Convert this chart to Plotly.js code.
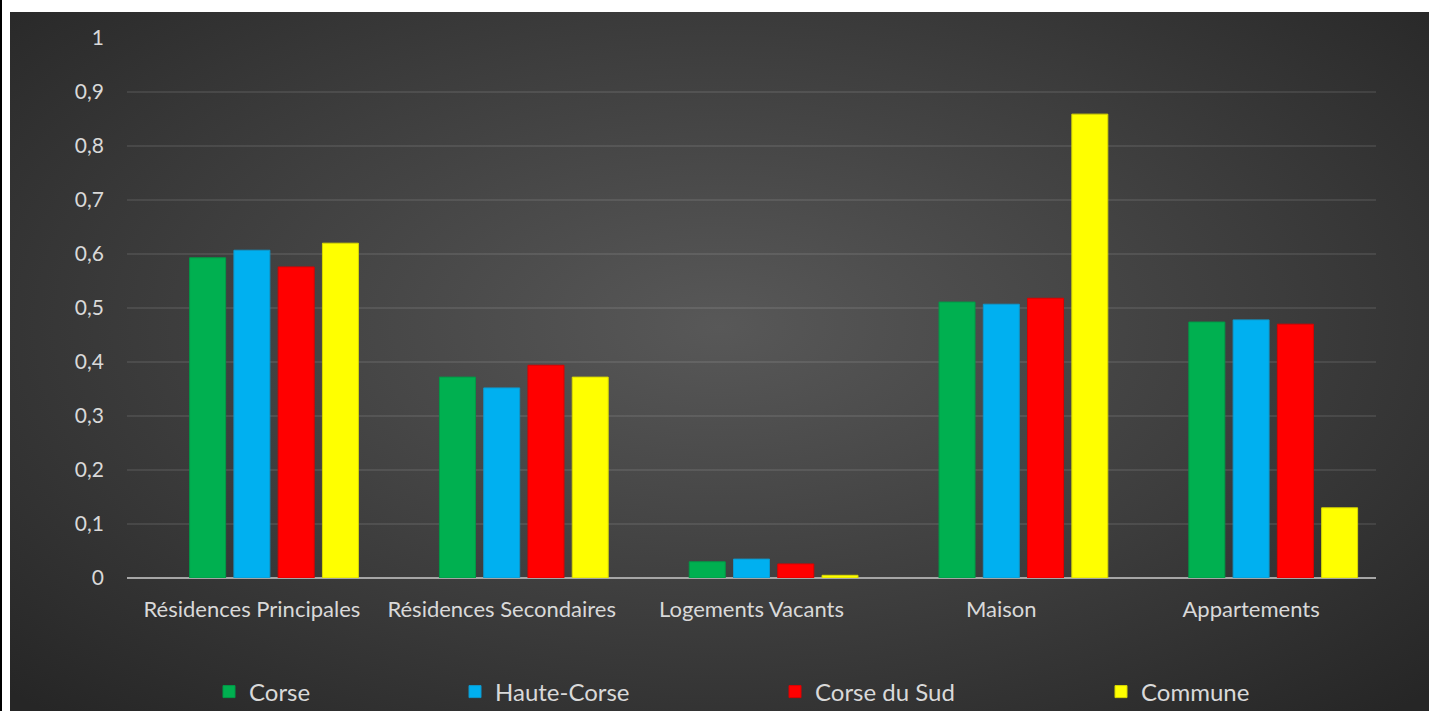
<!DOCTYPE html>
<html>
<head>
<meta charset="utf-8">
<script src="https://cdn.plot.ly/plotly-3.0.1.min.js"></script>
<style>
  html, body { margin: 0; padding: 0; background: #ffffff; width: 1429px; height: 711px; overflow: hidden; }
  #edge { position: absolute; left: 0; top: 0; width: 2px; height: 711px; background: #000000; }
  #bg { position: absolute; left: 10px; top: 12px; width: 1419px; height: 699px;
        background: radial-gradient(ellipse 70% 75% at 50% 45%, #585858 0%, #3d3d3d 55%, #262626 100%); }
  #chart { position: absolute; left: 0; top: 0; width: 1429px; height: 711px; }
</style>
</head>
<body>
<div id="edge"></div>
<div id="bg"></div>
<div id="chart"></div>
<script>
const categories = ['Résidences Principales', 'Résidences Secondaires', 'Logements Vacants', 'Maison', 'Appartements'];
const seriesNames = ['Corse', 'Haute-Corse', 'Corse du Sud', 'Commune'];
// an empty first series occupies the first slot of each group in the original chart
const emptySeries = [0, 0, 0, 0, 0];
const corse      = [0.593, 0.372, 0.030, 0.511, 0.474];
const hauteCorse = [0.607, 0.352, 0.035, 0.507, 0.478];
const corseSud   = [0.576, 0.394, 0.026, 0.518, 0.470];
const commune    = [0.620, 0.372, 0.005, 0.859, 0.130];
const yTicks     = [0, 0.1, 0.2, 0.3, 0.4, 0.5, 0.6, 0.7, 0.8, 0.9, 1];

const values = [corse, hauteCorse, corseSud, commune];
const colors = ['#00b050', '#00b0f0', '#ff0000', '#ffff00'];
const edges  = ['#009a46', '#0e98cc', '#dd0000', '#d8d800'];
const legendIds = ['legend', 'legend2', 'legend3', 'legend4'];
const legendTextStart = [250, 496, 816, 1142];

const W = 1429, H = 711;
const traces = [{
  type: 'bar', name: '', x: categories, y: emptySeries, showlegend: false,
  marker: { color: 'rgba(0,0,0,0)', line: { width: 0 } }, hoverinfo: 'skip'
}].concat(seriesNames.map((n, i) => ({
  type: 'bar', name: n, x: categories, y: values[i],
  marker: { color: colors[i], line: { color: edges[i], width: 1 } },
  legend: legendIds[i], hoverinfo: 'x+y+name'
})));

const fontFam = 'Lato, "Open Sans", sans-serif';
const layout = {
  width: W, height: H, showlegend: true,
  paper_bgcolor: 'rgba(0,0,0,0)', plot_bgcolor: 'rgba(0,0,0,0)',
  margin: { l: 127, r: 53, t: 38, b: 133 },
  separators: ', ',
  barmode: 'group', bargap: 0.114, bargroupgap: 0.187,
  font: { family: fontFam, color: '#d9d9d9', size: 18 },
  xaxis: {
    showgrid: false, showline: false, zeroline: false, ticks: '',
    tickfont: { size: 22, color: '#d9d9d9' }, ticklabelstandoff: 16
  },
  yaxis: {
    range: [0, 1], tickvals: yTicks, showgrid: true,
    gridcolor: 'rgba(255,255,255,0.09)', gridwidth: 1.5,
    zeroline: true, zerolinecolor: '#a6a6a6', zerolinewidth: 2,
    showline: false, ticks: '', tickfont: { size: 21, color: '#d9d9d9' },
    ticklabelstandoff: 22
  }
};
legendIds.forEach((id, i) => {
  layout[id] = {
    orientation: 'h', xref: 'container', yref: 'container',
    x: (legendTextStart[i] - 41) / W, xanchor: 'left',
    y: 1 - 692 / H, yanchor: 'middle',
    bgcolor: 'rgba(0,0,0,0)', borderwidth: 0, visible: true,
    font: { size: 24, color: '#d9d9d9', family: fontFam }
  };
});

Plotly.newPlot('chart', traces, layout, { displayModeBar: false, staticPlot: true });
</script>
</body>
</html>
